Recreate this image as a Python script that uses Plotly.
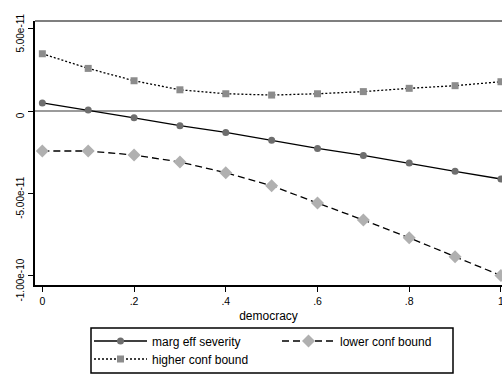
import plotly.graph_objects as go

democracy = [0, 0.1, 0.2, 0.3, 0.4, 0.5, 0.6, 0.7, 0.8, 0.9, 1.0]
marg_eff = [0.49e-11, 0.06e-11, -0.41e-11, -0.89e-11, -1.30e-11, -1.78e-11,
            -2.27e-11, -2.70e-11, -3.16e-11, -3.66e-11, -4.13e-11]
lower_cb = [-2.43e-11, -2.43e-11, -2.67e-11, -3.10e-11, -3.75e-11, -4.54e-11,
            -5.59e-11, -6.62e-11, -7.70e-11, -8.85e-11, -10.0e-11]
higher_cb = [3.48e-11, 2.59e-11, 1.84e-11, 1.29e-11, 1.05e-11, 0.97e-11,
             1.05e-11, 1.18e-11, 1.38e-11, 1.54e-11, 1.78e-11]

x_tickvals = [0, 0.2, 0.4, 0.6, 0.8, 1.0]
x_ticktext = ["0", ".2", ".4", ".6", ".8", "1"]
y_tickvals = [5e-11, 0, -5e-11, -1e-10]
y_ticktext = ["5.00e-11", "0", "-5.00e-11", "-1.00e-10"]

FONT = "Liberation Sans, Arial, sans-serif"

fig = go.Figure()
fig.add_trace(go.Scatter(
    x=democracy, y=marg_eff, name="marg eff severity", mode="lines+markers",
    line=dict(color="black", width=1.3, dash="solid"),
    marker=dict(symbol="circle", size=7, color="#6e6e6e"), legend="legend"))
fig.add_trace(go.Scatter(
    x=democracy, y=lower_cb, name="lower conf bound", mode="lines+markers",
    line=dict(color="black", width=1.3, dash="7px,4px"),
    marker=dict(symbol="diamond", size=10, color="#b0b0b0"), legend="legend"))
fig.add_trace(go.Scatter(
    x=democracy, y=higher_cb, name="higher conf bound", mode="lines+markers",
    line=dict(color="black", width=1.3, dash="2px,2px"),
    marker=dict(symbol="square", size=7, color="#8c8c8c"), legend="legend2"))

fig.add_hline(y=0, line=dict(color="#7a7a7a", width=1.5), layer="below")
fig.add_shape(type="line", xref="paper", yref="paper", x0=0, x1=1, y0=1, y1=1,
              line=dict(color="black", width=1.2))
# legend frame (plot area spans x 35..502, y 21..285 px)
fig.add_shape(type="rect", xref="paper", yref="paper",
              x0=(91 - 35) / 467, x1=(453 - 35) / 467,
              y0=(285 - 373) / 264, y1=(285 - 328) / 264,
              line=dict(color="black", width=1.5), fillcolor="rgba(0,0,0,0)")

legend_common = dict(
    orientation="h", xanchor="left", xref="container", yref="container",
    yanchor="middle", bgcolor="rgba(0,0,0,0)", borderwidth=0,
    entrywidth=120, itemwidth=53, font=dict(family=FONT, size=12),
)

fig.update_layout(
    width=502, height=374,
    margin=dict(l=35, r=0, t=21, b=89, autoexpand=False),
    paper_bgcolor="white", plot_bgcolor="white",
    font=dict(family=FONT, size=11, color="black"),
    showlegend=True,
    legend=dict(x=89 / 502, y=1 - 341 / 374, **legend_common),
    legend2=dict(x=89 / 502, y=1 - 359 / 374, **legend_common),
    xaxis=dict(
        range=[-0.016, 1.0023], tickvals=x_tickvals, ticktext=x_ticktext,
        showgrid=False, zeroline=False, showline=True, linecolor="black",
        linewidth=2, ticks="outside", ticklen=5, tickcolor="black",
        title=dict(text="democracy", standoff=6, font=dict(size=12)),
        tickfont=dict(size=10.5), automargin=False, ticklabeloverflow="allow",
    ),
    yaxis=dict(
        range=[-1.057e-10, 5.47e-11], tickvals=y_tickvals, ticktext=y_ticktext,
        showgrid=False, zeroline=False, showline=True, linecolor="black",
        linewidth=2, ticks="outside", ticklen=5, tickcolor="black",
        tickangle=-90, tickfont=dict(size=10), automargin=False,
        ticklabelshift=6, ticklabeloverflow="allow",
    ),
)

fig.write_html("out.html", config={"displayModeBar": False},
               post_script="document.body.style.margin='0';document.body.style.overflow='hidden';")
